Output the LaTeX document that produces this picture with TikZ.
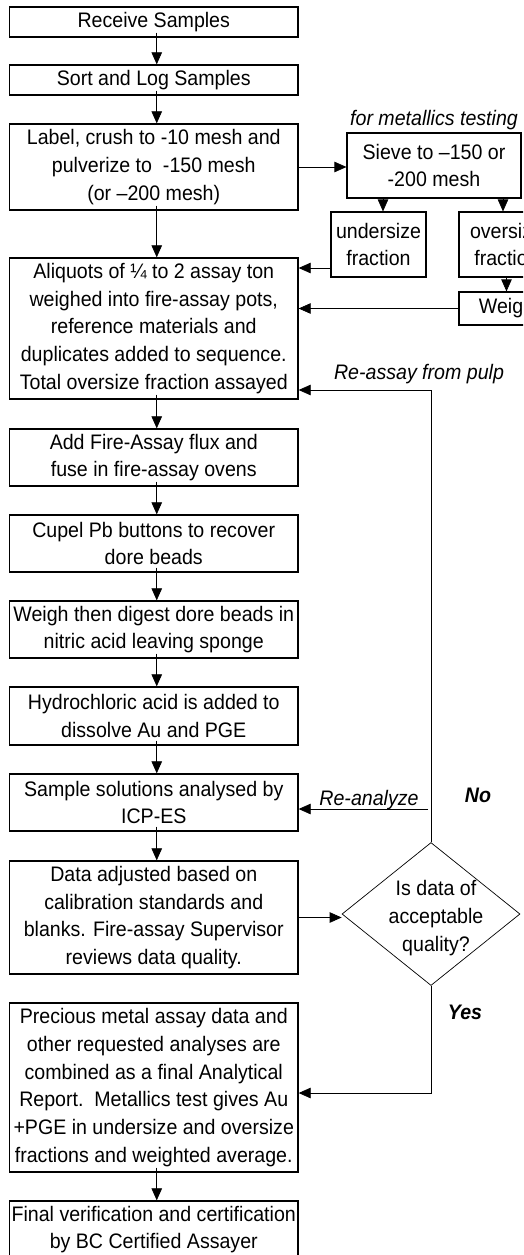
\documentclass[tikz,border=0pt]{standalone}
\usepackage{fontspec}
\setmainfont{Liberation Sans}[FakeStretch=0.933]
\usetikzlibrary{arrows.meta,shapes.geometric}
\newcommand\mfs{\fontsize{21}{27.7}\selectfont}
\tikzset{
  box/.style={draw, line width=1.3pt, inner sep=0pt, align=center, minimum width=288.5pt},
  sbox/.style={draw, line width=1.2pt, inner sep=0pt, align=center},
  arr/.style={line width=0.7pt, -{Triangle[length=12pt,width=10.5pt]}},
  lbl/.style={font=\mfs\itshape, inner sep=0pt},
  blbl/.style={font=\mfs\bfseries\itshape, inner sep=0pt},
}
\begin{document}
\begin{tikzpicture}[x=1pt,y=-1pt,font=\mfs]
\useasboundingbox (0,0) rectangle (523,1255);
\clip (0,0) rectangle (523,1255);
% main column
\node[box, minimum height=30pt] (recv) at (153.75,22) {Receive Samples};
\node[box, minimum height=30pt] (sort) at (153.75,80) {Sort and Log Samples};
\node[box, minimum height=86pt] (label) at (153.75,167) {Label, crush to -10 mesh and\\pulverize to\ \ -150 mesh\\(or –200 mesh)};
\node[box, minimum height=141pt] (aliq) at (153.75,328.5) {Aliquots of ¼ to 2 assay ton\\weighed into fire-assay pots,\\reference materials and\\duplicates added to sequence.\\Total oversize fraction assayed};
\node[box, minimum height=57pt] (flux) at (153.75,457.5) {Add Fire-Assay flux and\\fuse in fire-assay ovens};
\node[box, minimum height=57pt] (cupel) at (153.75,543.5) {Cupel Pb buttons to recover\\dore beads};
\node[box, minimum height=57pt] (digest) at (153.75,629.5) {Weigh then digest dore beads in\\nitric acid leaving sponge};
\node[box, minimum height=58pt] (hcl) at (153.75,716) {Hydrochloric acid is added to\\dissolve Au and PGE};
\node[box, minimum height=57pt] (icp) at (153.75,802.5) {Sample solutions analysed by\\ICP-ES};
\node[box, minimum height=113pt] (data) at (153.75,917.5) {Data adjusted based on\\calibration standards and\\blanks. Fire-assay Supervisor\\reviews data quality.};
\node[box, minimum height=169pt] (prec) at (153.75,1087.5) {Precious metal assay data and\\other requested analyses are\\combined as a final Analytical\\Report.\ \ Metallics test gives Au\\+PGE in undersize and oversize\\fractions and weighted average.};
\node[box, minimum height=57pt] (final) at (153.75,1229.5) {Final verification and certification\\by BC Certified Assayer};
% metallics branch
\node[lbl] (metl) at (434,120) {for metallics testing};
\node[sbox, minimum width=174pt, minimum height=65pt] (sieve) at (434,165.5) {Sieve to –150 or\\-200 mesh};
\node[sbox, minimum width=95pt, minimum height=65pt] (under) at (378.5,244.5) {undersize\\fraction};
\node[sbox, minimum width=95pt, minimum height=65pt] (over) at (506.5,244.5) {oversize\\fraction};
\node[sbox, minimum width=95pt, minimum height=33pt] (weigh) at (506.5,308.5) {Weigh};
% decision
\node[draw, diamond, line width=0.7pt, inner sep=0pt, minimum width=178pt, minimum height=143pt] (q) at (431,914) {};
\node[align=center, inner sep=0pt] (qt) at (436,918) {Is data of\\acceptable\\quality?};
\node[lbl] (reap) at (419,374) {Re-assay from pulp};
\node[lbl] (reanl) at (369,800) {Re-analyze};
\node[blbl] (no) at (478,795) {No};
\node[blbl] (yes) at (465,1012) {Yes};
\coordinate (rabend) at (431,390);
\coordinate (rean) at (428,809);
\coordinate (yesbend) at (431,1093);
% main flow connectors
\foreach \a/\b in {recv/sort, sort/label, label/aliq, aliq/flux, flux/cupel, cupel/digest, digest/hcl, hcl/icp, icp/data, prec/final}
  \draw[arr] ([xshift=3pt,yshift=5pt]\a.south) -- ([xshift=3pt]\b.north);
% branch connectors
\draw[arr] (label.east) -- (label.east -| sieve.west);
\draw[arr] ([xshift=4.5pt]under.north |- sieve.south) -- ([xshift=4.5pt]under.north);
\draw[arr] ([xshift=-3.5pt]over.north |- sieve.south) -- ([xshift=-3.5pt]over.north);
\draw[arr] (over.south) -- (weigh.north);
\draw[arr] ([yshift=-23.5pt]under.west) -- ([yshift=-23.5pt]under.west -| aliq.east);
\draw[arr] (weigh.west) -- (weigh.west -| aliq.east);
\draw[arr] (data.east) -- (data.east -| q.west);
\draw[arr] (q.north) -- (rabend) -- (rabend -| aliq.east);
\draw[arr] (rean) -- (rean -| icp.east);
\draw[arr] (q.south) -- (yesbend) -- (yesbend -| prec.east);
\end{tikzpicture}
\end{document}
